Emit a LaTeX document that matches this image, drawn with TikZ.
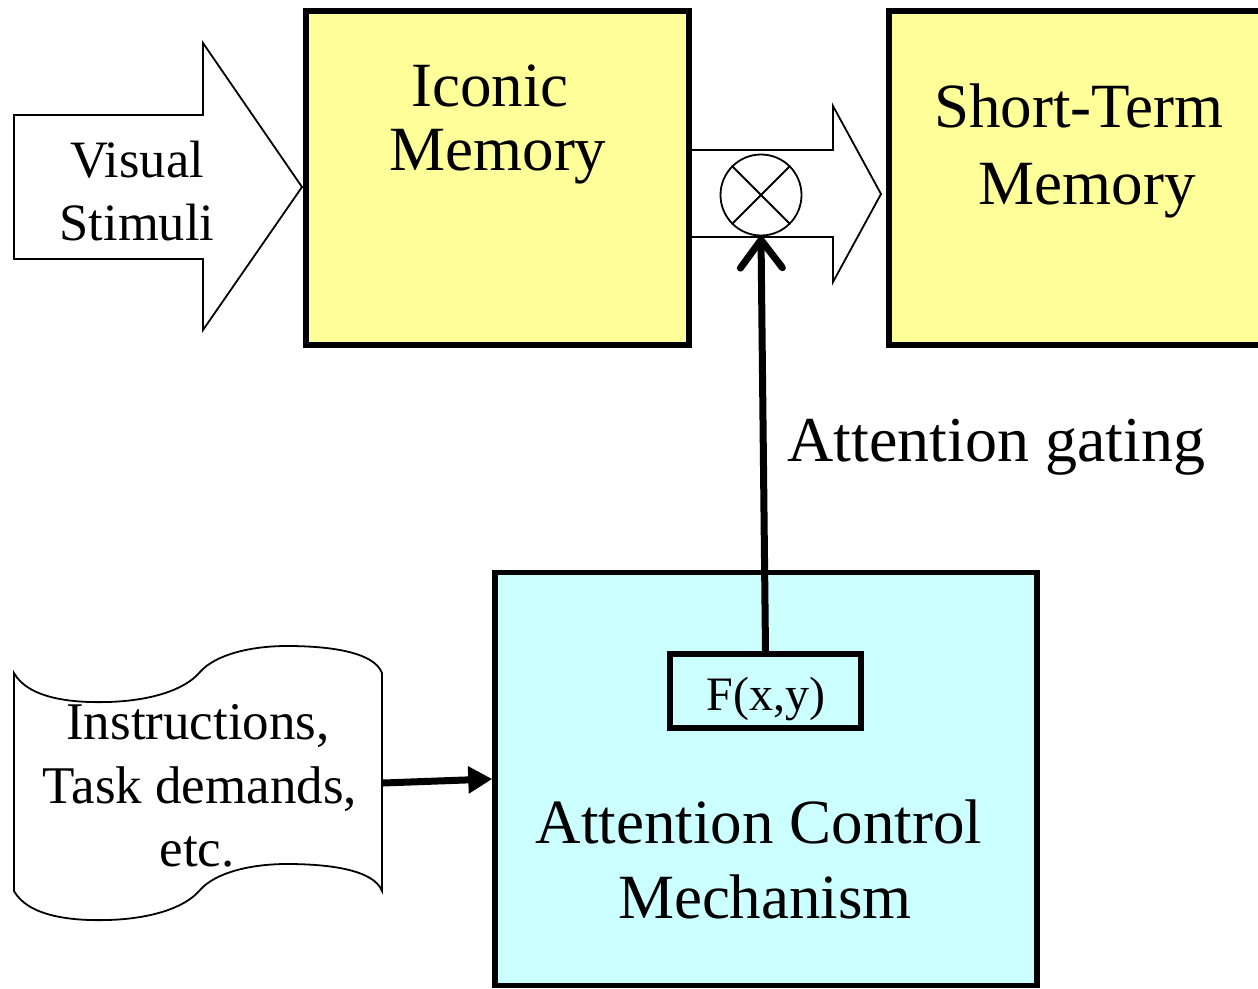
\documentclass[tikz,border=0pt]{standalone}
\usepackage{fontspec}
\setmainfont{Liberation Serif}
\usetikzlibrary{arrows.meta}
\definecolor{memyellow}{HTML}{FFFF99}
\definecolor{ctrlcyan}{HTML}{CCFFFF}
\tikzset{
  membox/.style={draw, line width=5.5pt, fill=memyellow, rectangle, inner sep=0pt},
  ctrlbox/.style={draw, line width=5.5pt, fill=ctrlcyan, rectangle, inner sep=0pt},
  thinline/.style={draw, line width=1.8pt, line join=miter},
  txt/.style={anchor=base, inner sep=0pt},
  big/.style={font=\fontsize{63}{70}\selectfont},
  mid/.style={font=\fontsize{52.5}{60}\selectfont},
  small/.style={font=\fontsize{48}{54}\selectfont},
  thickarrow/.style={line width=7pt},
}
\begin{document}
\begin{tikzpicture}[x=1pt, y=-1pt]
\useasboundingbox (0,0) rectangle (1258,988);

% incoming visual stimuli arrow
\draw[thinline, fill=white] (14,115) -- (203,115) -- (203,43) -- (302,187)
  -- (203,330) -- (203,259) -- (14,259) -- cycle;
\node[txt, mid] (vis1) at (137,177) {Visual};
\node[txt, mid] (vis2) at (137,240) {Stimuli};

% transfer arrow between the memories
\draw[thinline, fill=white] (689,150) -- (833,150) -- (833,106) -- (881,194)
  -- (833,282) -- (833,237) -- (689,237);

% memory stores
\node[membox, minimum width=383pt, minimum height=334pt] (iconic) at (497.5,178) {};
\node[txt, big] (ic1) at (490,106) {Iconic};
\node[txt, big] (ic2) at (498,170) {Memory};

\node[membox, minimum width=390pt, minimum height=334pt] (stm) at (1084,178) {};
\node[txt, big] (st1) at (1079,127) {Short-Term};
\node[txt, big] (st2) at (1087,204) {Memory};

% gating multiplier
\node[circle, draw, line width=1.8pt, fill=white, minimum size=81pt, inner sep=0pt] (mult) at (761,195) {};
\draw[line width=1.8pt] (mult.north west) -- (mult.south east);
\draw[line width=1.8pt] (mult.north east) -- (mult.south west);

% attention control
\node[ctrlbox, minimum width=542pt, minimum height=413pt] (acm) at (766,779) {};
\node[txt, big] (ac1) at (759,843) {Attention Control};
\node[txt, big] (ac2) at (765,918) {Mechanism};
\node[ctrlbox, minimum width=191pt, minimum height=74pt] (fxy) at (765.5,691) {};
\node[txt, small] (fxyt) at (766,710) {F(x,y)};

% attention gating signal
\draw[thickarrow, -{Straight Barb[length=28pt, width=42pt, line width=7pt, round]}] (fxy.north) -- (mult.south);
\node[txt, big, anchor=base west, font=\fontsize{64}{70}\selectfont] (gate) at (787,461) {Attention gating};

% instructions document
\draw[thinline, fill=white] (14,673)
  .. controls (28,698) and (70,703) .. (107,702)
  .. controls (150,701) and (185,690) .. (200,672)
  .. controls (216,654) and (252,646) .. (287,646)
  .. controls (330,646) and (374,652) .. (382,673)
  -- (382,891)
  .. controls (374,870) and (330,864) .. (287,864)
  .. controls (252,864) and (216,872) .. (200,890)
  .. controls (185,908) and (150,919) .. (107,920)
  .. controls (70,921) and (28,916) .. (14,891)
  -- cycle;
\node[txt, font=\fontsize{53}{60}\selectfont] (in1) at (198,739) {Instructions,};
\node[txt, font=\fontsize{53}{60}\selectfont] (in2) at (200,803) {Task demands,};
\node[txt, font=\fontsize{53}{60}\selectfont] (in3) at (197,866) {etc.};
\coordinate (docout) at (383,783);
\draw[thickarrow, -{Triangle[length=24pt, width=26pt]}] (docout) -- (acm.west);
\end{tikzpicture}
\end{document}
